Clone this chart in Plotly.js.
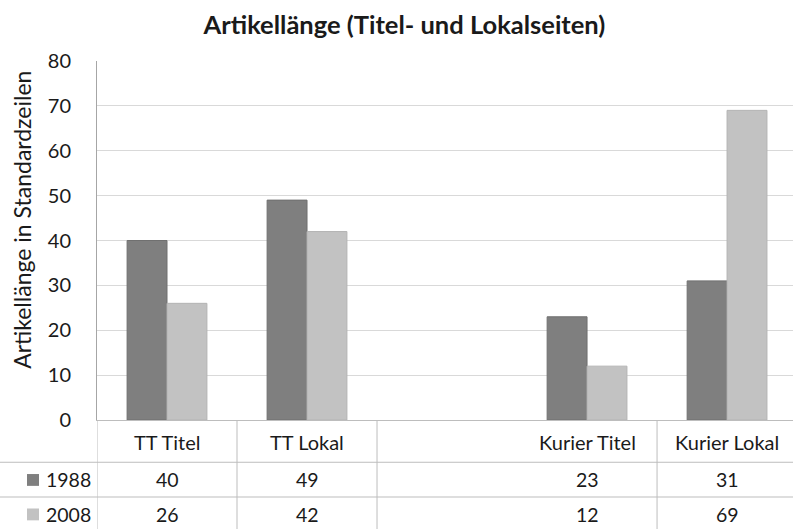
<!DOCTYPE html>
<html>
<head>
<meta charset="utf-8">
<script src="https://cdn.plot.ly/plotly-3.0.1.min.js"></script>
<style>html,body{margin:0;padding:0;background:#fff;}#chart{width:793px;height:529px;}</style>
</head>
<body>
<div id="chart"></div>
<script>
// Data
const categories = ["TT Titel", "TT Lokal", "", "Kurier Titel", "Kurier Lokal"];
const seriesNames = ["1988", "2008"];
const values1988 = [40, 49, null, 23, 31];
const values2008 = [26, 42, null, 12, 69];
const yTicks = [0, 10, 20, 30, 40, 50, 60, 70, 80];

const colors = ["#7f7f7f", "#c2c2c2"];
const lineColors = ["#707070", "#b4b4b4"];
const FONT = "Lato, 'Open Sans', sans-serif";
const textColor = "#1a1a1a";
const tableLine = "#bdbdbd";

const xIdx = categories.map((c, i) => i);
const allSeries = [values1988, values2008];

const traces = allSeries.map((vals, k) => ({
  type: "bar",
  name: seriesNames[k],
  x: xIdx,
  y: vals,
  marker: { color: colors[k], line: { color: lineColors[k], width: 1 } },
  hoverinfo: "skip"
}));

// table geometry (paper coords relative to plot area)
const rowY = [-0.167, -0.263];
const headerY = -0.061;

const annotations = [];
categories.forEach((c, i) => {
  if (c) {
    annotations.push({ xref: "x", yref: "paper", x: i, y: headerY, text: c, showarrow: false,
      xanchor: "center", yanchor: "middle", font: { family: FONT, size: 20, color: textColor } });
  }
});
allSeries.forEach((vals, k) => {
  vals.forEach((v, i) => {
    if (v !== null) {
      annotations.push({ xref: "x", yref: "paper", x: i, y: rowY[k], text: String(v), showarrow: false,
        xanchor: "center", yanchor: "middle", font: { family: FONT, size: 19.5, color: textColor } });
    }
  });
  annotations.push({ xref: "paper", yref: "paper", x: -0.006, y: rowY[k], text: seriesNames[k], showarrow: false,
    xanchor: "right", yanchor: "middle", font: { family: FONT, size: 19.5, color: textColor } });
});
annotations.push({ xref: "paper", yref: "paper", x: -0.108, y: 0.557, text: "Artikellänge in Standardzeilen",
  textangle: -90, showarrow: false, xanchor: "center", yanchor: "middle",
  font: { family: FONT, size: 23, color: textColor } });

const shapes = [];
// horizontal table lines
[-0.1177, -0.2145].forEach(y => {
  shapes.push({ type: "line", xref: "paper", yref: "paper", x0: -0.14, x1: 1, y0: y, y1: y,
    line: { color: tableLine, width: 1 } });
});
// vertical table lines at category boundaries
[-0.5, 0.5, 1.5, 3.5].forEach(x => {
  shapes.push({ type: "line", xref: "x", yref: "paper", x0: x, x1: x, y0: 0, y1: -0.31,
    line: { color: tableLine, width: 1 } });
});
// legend keys
rowY.forEach((y, k) => {
  shapes.push({ type: "rect", xref: "paper", yref: "paper", x0: -0.1006, x1: -0.0833, y0: y - 0.0165, y1: y + 0.0165,
    fillcolor: colors[k], line: { width: 0 } });
});

const layout = {
  width: 793, height: 529,
  margin: { l: 97, r: 0, t: 61, b: 109 },
  paper_bgcolor: "#ffffff", plot_bgcolor: "#ffffff",
  showlegend: false,
  barmode: "group",
  bargap: 0.43,
  bargroupgap: 0,
  title: { text: "<b>Artikellänge (Titel- und Lokalseiten)</b>", x: 0.51, xanchor: "center",
    y: 0.953, yanchor: "middle", font: { family: FONT, size: 25.5, color: textColor } },
  xaxis: { range: [-0.5, 4.471], showticklabels: false, showgrid: false, zeroline: false,
    showline: true, linecolor: tableLine, linewidth: 1, ticks: "" , fixedrange: true },
  yaxis: { range: [0, 80], tickvals: yTicks, ticktext: yTicks.map(String), showgrid: true, gridcolor: "#d9d9d9",
    zeroline: false, showline: true, linecolor: "#a6a6a6", linewidth: 1, ticks: "",
    ticklabelstandoff: 21, tickfont: { family: FONT, size: 20, color: textColor }, fixedrange: true },
  annotations: annotations,
  shapes: shapes,
  font: { family: FONT }
};

Plotly.newPlot("chart", traces, layout, { staticPlot: true, displayModeBar: false });
</script>
</body>
</html>
